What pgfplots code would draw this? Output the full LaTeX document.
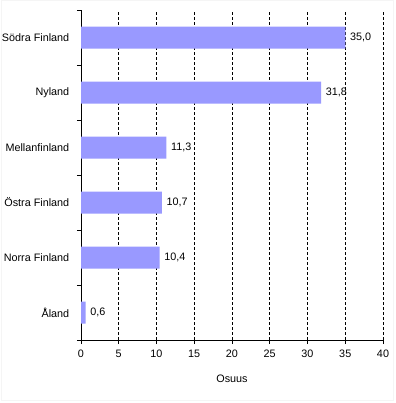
\documentclass[border=0pt]{standalone}
\usepackage{fontspec}
\setmainfont{Liberation Sans}
\usepackage{pgfplots}
\pgfplotsset{compat=1.18}
\definecolor{barc}{HTML}{9999FF}
\begin{document}
\fontsize{10.8bp}{12bp}\selectfont
\begin{tikzpicture}[x=1bp,y=1bp]
\useasboundingbox (0,0) rectangle (396,403);
\fill[white] (0,0) rectangle (396,403);
\draw[black!4,line width=1bp] (1,3) rectangle (393,402);
\begin{axis}[
  at={(81bp,63bp)}, anchor=south west,
  scale only axis, width=302bp, height=330bp,
  xbar, bar width=0.4,
  xmin=0, xmax=40, ymin=-0.5, ymax=5.5,
  axis x line*=bottom, axis y line*=left,
  axis line style={black, line width=1bp, -},
  xtick={0,5,...,40},
  ytick={0,1,2,3,4,5},
  yticklabels={Åland,Norra Finland,Östra Finland,Mellanfinland,Nyland,Södra Finland},
  minor ytick={-0.5,0.5,...,5.5},
  major y tick style={draw=none},
  minor tick length=4bp, major tick length=4bp,
  tick align=outside,
  tick style={black, line width=1bp},
  xmajorgrids, 
  major x grid style={black, line width=1bp, dash pattern=on 3bp off 2bp},
  xlabel={Osuus},
  xlabel style={yshift=-10bp},
  tick label style={font=\fontsize{10.8bp}{12bp}\selectfont},
  label style={font=\fontsize{10.8bp}{12bp}\selectfont},
  /pgf/number format/assume math mode=true,
  xticklabel style={yshift=-2bp},
  yticklabel style={xshift=-4bp},
  nodes near coords,
  nodes near coords style={font=\fontsize{10.8bp}{12bp}\selectfont, xshift=1bp,
    /pgf/number format/fixed, /pgf/number format/fixed zerofill,
    /pgf/number format/precision=1, /pgf/number format/use comma,
    /pgf/number format/assume math mode=true},
  clip=false,
]
\addplot[fill=barc, draw=none] coordinates {
  (0.6,0) (10.4,1) (10.7,2) (11.3,3) (31.8,4) (35.0,5)
};
\end{axis}
\end{tikzpicture}
\end{document}
